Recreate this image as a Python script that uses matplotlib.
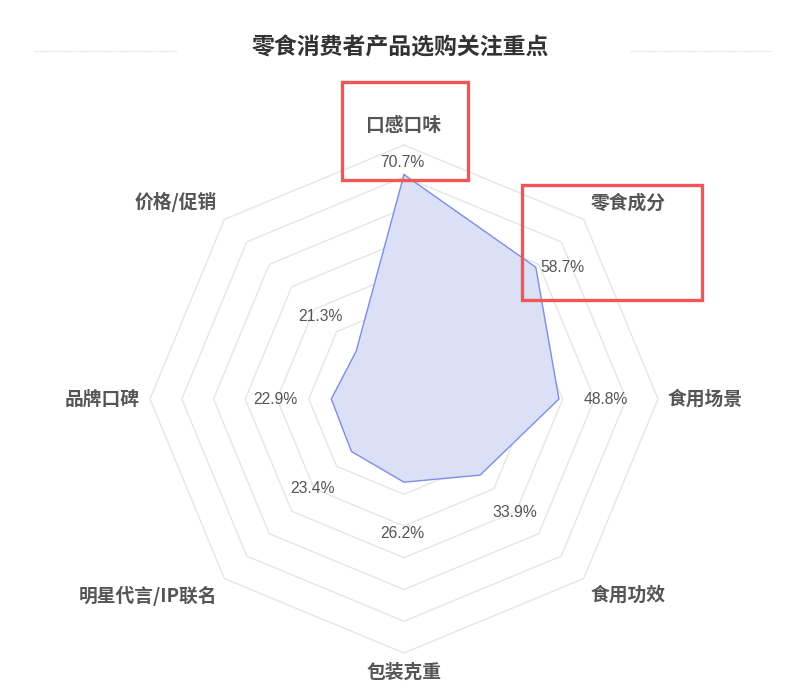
import numpy as np
import matplotlib
matplotlib.use("Agg")
import matplotlib.pyplot as plt
from matplotlib.patches import Rectangle
from matplotlib.lines import Line2D

CJK = ["Noto Sans CJK SC", "DejaVu Sans"]
plt.rcParams["font.family"] = CJK

# data
categories = ["口感口味", "零食成分", "食用场景", "食用功效", "包装克重",
              "明星代言/IP联名", "品牌口碑", "价格/促销"]
values = [70.7, 58.7, 48.8, 33.9, 26.2, 23.4, 22.9, 21.3]
title = "零食消费者产品选购关注重点"
rmax = 80
levels = [10, 20, 30, 40, 50, 60, 70, 80]

# label offsets in pixels (dx, dy) from the data point, and alignment
lab_off = [(-2, 12, "center"), (5, 0, "left"), (47, 0, "center"), (35, -37, "center"),
           (-2, -51, "center"), (-39, -37, "center"), (-56, 0, "center"), (-36, 35, "center")]

W, H = 792, 691
cx, cy = 404, 399          # centre in pixels (from top)
R = 254                    # outer radius px
u = R / rmax               # px per unit

fig = plt.figure(figsize=(W / 100, H / 100), dpi=100)
ax = fig.add_axes([0, 0, 1, 1])
ax.set_xlim(-cx / u, (W - cx) / u)
ax.set_ylim(-(H - cy) / u, cy / u)
ax.axis("off")

n = len(categories)
theta = np.pi / 2 - np.arange(n) * 2 * np.pi / n
tc = np.append(theta, theta[0])

for lv in levels:
    ax.plot(lv * np.cos(tc), lv * np.sin(tc), color="#e6e6e6", lw=1, zorder=1)

v = np.array(values)
xs, ys = v * np.cos(theta), v * np.sin(theta)
ax.fill(xs, ys, facecolor="#dbe0f6", edgecolor="none", zorder=2)
ax.plot(np.append(xs, xs[0]), np.append(ys, ys[0]), color="#7b8de8", lw=1, zorder=3)

for i in range(n):
    dx, dy, ha = lab_off[i]
    ax.annotate(f"{values[i]}%", (xs[i], ys[i]), xytext=(dx, dy), textcoords="offset pixels",
                ha=ha, va="center", fontsize=11.3, color="#555555",
                family=["Liberation Sans", "DejaVu Sans"], zorder=4)

# axis names
rl = rmax + 10 / u
for i, name in enumerate(categories):
    c, s = np.cos(theta[i]), np.sin(theta[i])
    ha = "center" if abs(c) < 0.1 else ("left" if c > 0 else "right")
    va = "center" if abs(s) < 0.1 else ("bottom" if s > 0 else "top")
    ax.text(rl * c, rl * s, name, ha=ha, va=va, fontsize=13.5, color="#555555",
            fontweight="bold", family=CJK)

fig.text(400 / W, 1 - 48 / H, title, ha="center", va="center", fontsize=16.5,
         fontweight="bold", color="#333333", family=CJK)
for x0, x1 in [(35, 177), (630, 772)]:
    fig.add_artist(Line2D([x0 / W, x1 / W], [1 - 51 / H] * 2, transform=fig.transFigure,
                          color="#d8d8d8", lw=0.8, ls=(0, (1, 1))))

# highlight boxes
for x0, y0, x1, y1 in [(342, 82, 468, 180), (522, 185, 702, 300)]:
    fig.add_artist(Rectangle((x0 / W, 1 - y1 / H), (x1 - x0) / W, (y1 - y0) / H,
                             transform=fig.transFigure, fill=False, ec="#f25555", lw=2.4))

fig.savefig("out.png", dpi=100)
